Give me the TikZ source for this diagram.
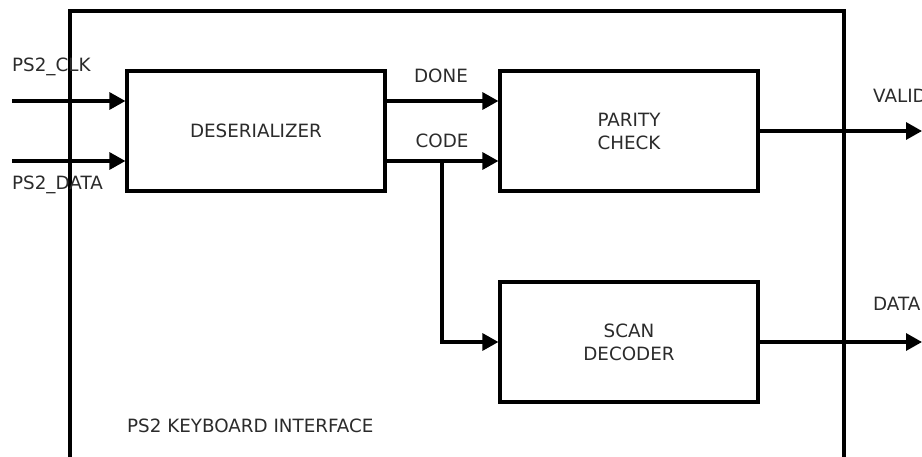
\documentclass[tikz,border=0pt]{standalone}
\usepackage{fontspec}
\setmainfont{DejaVu Sans}
\usetikzlibrary{arrows.meta}
\definecolor{txt}{HTML}{2B2B2B}
\tikzset{
  blk/.style={draw=black, line width=3.2pt, minimum width=258pt, minimum height=120pt, align=center, inner sep=0pt, text=txt, font=\fontsize{18.3}{23}\selectfont},
  wire/.style={draw=black, line width=3.2pt, -{Triangle[length=16pt,width=17pt]}},
  plain/.style={draw=black, line width=3.2pt},
  lbl/.style={text=txt, font=\fontsize{18.3}{21}\selectfont, inner sep=0pt}
}
\begin{document}
\begin{tikzpicture}[x=1pt,y=-1pt]
\useasboundingbox (0,0) rectangle (922,456);
\clip (0,0) rectangle (922,456);
\draw[plain] (70,11) rectangle (844,480);
\node[blk] (des) at (256,131) {DESERIALIZER};
\node[blk] (par) at (629,131) {PARITY\\CHECK};
\node[blk] (scan) at (629,342) {SCAN\\DECODER};
\coordinate (clkin) at (12,101);
\coordinate (datin) at (12,161);
\coordinate (br) at (442,161);
\coordinate (validout) at (922,131);
\coordinate (dataout) at (922,342);
\draw[wire] (clkin) -- (des.west |- clkin);
\draw[wire] (datin) -- (des.west |- datin);
\draw[wire] (des.east |- clkin) -- (par.west |- clkin);
\draw[wire] (des.east |- datin) -- (par.west |- datin);
\draw[wire] (br) |- (scan.west);
\draw[wire] (par.east) -- (validout);
\draw[wire] (scan.east) -- (dataout);
\node[lbl, anchor=west] (lclk) at (12,67) {PS2\_CLK};
\node[lbl, anchor=west] (ldat) at (12,185) {PS2\_DATA};
\node[lbl] (ldone) at (441,76) {DONE};
\node[lbl] (lcode) at (442,141) {CODE};
\node[lbl, anchor=west] (lvalid) at (873,96) {VALID};
\node[lbl, anchor=west] (ldata) at (873,304) {DATA};
\node[lbl, anchor=west] (ltitle) at (127,426) {PS2 KEYBOARD INTERFACE};
\end{tikzpicture}
\end{document}
